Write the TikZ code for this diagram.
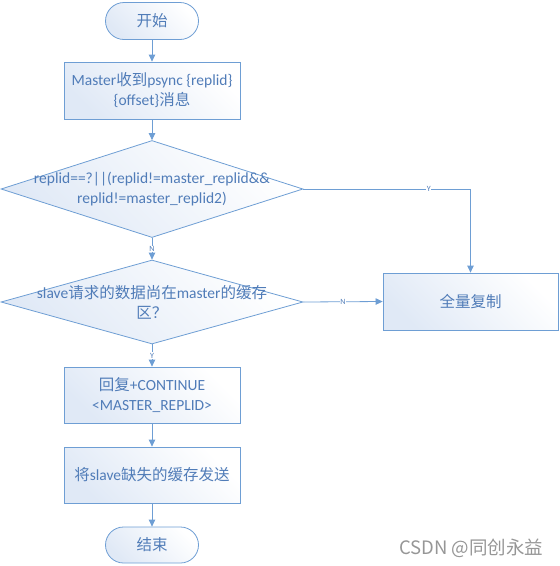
\documentclass[tikz,border=0pt]{standalone}
\usepackage{fontspec}
\setmainfont{Carlito}
\newfontfamily\cjkfont{Noto Sans CJK SC}
\newcommand{\zhs}[1]{{\cjkfont #1}}
\usetikzlibrary{shapes.geometric,arrows.meta}
\definecolor{edge}{RGB}{110,158,212}
\definecolor{ink}{RGB}{80,124,184}
\definecolor{pale}{RGB}{224,233,246}
\definecolor{mark}{RGB}{150,150,150}
\begin{document}
\begin{tikzpicture}[x=1pt,y=-1pt,
  base/.style={draw=edge, line width=0.8pt, top color=pale, bottom color=white, shading angle=135,
    text=ink, font=\fontsize{15.5}{20}\selectfont, align=center},
  term/.style={base, rounded corners=18.5pt, minimum width=93pt, minimum height=37pt},
  proc/.style={base, minimum width=176pt, minimum height=57pt},
  dia/.style={base, diamond, minimum width=302pt, inner sep=0pt},
  txt/.style={text=ink, font=\fontsize{15.5}{20}\selectfont, align=center, inner sep=0pt},
  lab/.style={text=ink, font=\fontsize{8}{9}\selectfont, fill=white, inner sep=0.6pt},
  flow/.style={draw=edge, line width=0.8pt, -{Triangle[length=7pt,width=6.5pt]}}]
\useasboundingbox (0,0) rectangle (560,566);
\node[term] (start) at (152,21) {\zhs{开始}};
\node[proc] (b1) at (152,90.5) {Master\zhs{收到}psync \{replid\}\\\{offset\}\zhs{消息}};
\node[dia, minimum height=97pt] (d1) at (152,189) {};
\node[txt] (t1) at (d1) {replid==?||(replid!=master\_replid\&\&\\replid!=master\_replid2)};
\node[dia, minimum height=84pt] (d2) at (152,302) {};
\node[txt] (t2) at (d2) {slave\zhs{请求的数据尚在}master\zhs{的缓存}\\\zhs{区？}};
\node[proc, minimum width=175pt] (full) at (470.5,301.5) {\zhs{全量复制}};
\node[proc, minimum height=56pt] (b3) at (152,395) {\zhs{回复}+CONTINUE\\<MASTER\_REPLID>};
\node[proc, minimum height=56pt] (b4) at (152,475) {\zhs{将}slave\zhs{缺失的缓存发送}};
\node[term, minimum height=36pt, rounded corners=18pt] (end) at (152,545) {\zhs{结束}};
\node[text=mark, font=\cjkfont\fontsize{18.5}{20}\selectfont, anchor=east] (wm) at (547,548) {CSDN @同创永益};
\draw[flow] (start) -- (b1);
\draw[flow] (b1) -- (d1.north);
\draw[flow] (d1.south) -- node[lab]{N} (d2.north);
\draw[flow] (d1.east) -- node[lab, pos=0.75]{Y} (full.north |- d1.east) -- (full.north);
\draw[flow] (d2.east) -- node[lab]{N} (full.west);
\draw[flow] (d2.south) -- node[lab]{Y} (b3.north);
\draw[flow] (b3) -- (b4);
\draw[flow] (b4) -- (end);
\end{tikzpicture}
\end{document}
